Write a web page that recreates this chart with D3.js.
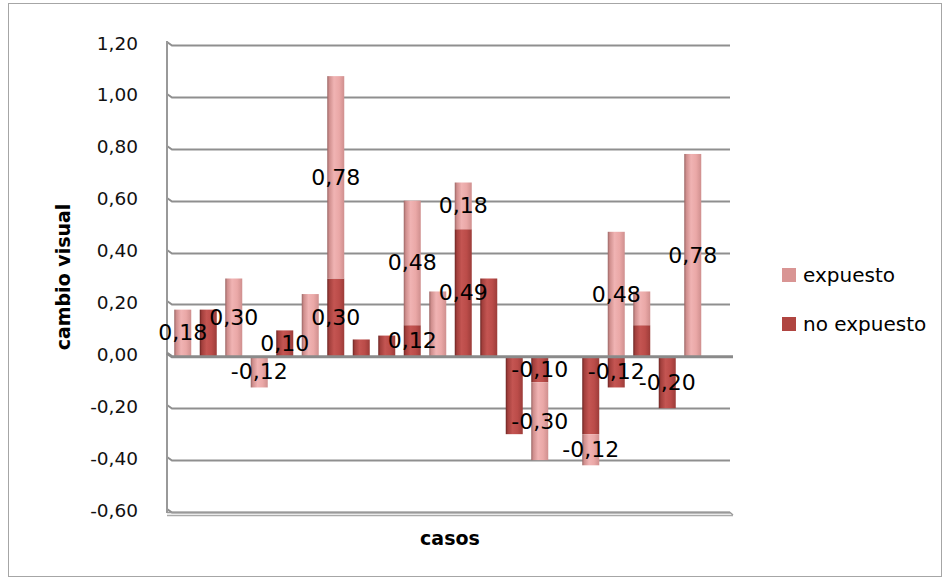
<!DOCTYPE html>
<html>
<head>
<meta charset="utf-8">
<script src="https://cdn.jsdelivr.net/npm/d3@7"></script>
<style>
  html, body { margin: 0; padding: 0; background: #fff; }
  svg { display: block; }
</style>
</head>
<body>
<svg id="chart" width="950" height="581"></svg>
<script>
// ---- data ----
const categories = ["1","2","3","4","5","6","7","8","9","10","11","12","13","14","15","16","17","18","19","20","21"];
const noExpuesto = [0, 0.18, 0, 0, 0.10, 0, 0.30, 0.065, 0.08, 0.12, 0, 0.49, 0.30, -0.30, -0.10, null, -0.30, -0.12, 0.12, -0.20, 0];
const expuesto   = [0.18, 0, 0.30, -0.12, 0, 0.24, 0.78, 0, 0, 0.48, 0.25, 0.18, 0, 0, -0.30, null, -0.12, 0.48, 0.13, 0, 0.78];
const noExpuestoLabel = [0,0,0,0,1,0,1,0,0,1,0,1,0,0,1,0,0,1,0,1,0];
const expuestoLabel   = [1,0,1,1,0,0,1,0,0,1,0,1,0,0,1,0,1,1,0,0,1];
const yTicks = [-0.6, -0.4, -0.2, 0, 0.2, 0.4, 0.6, 0.8, 1.0, 1.2];
const seriesNames = ["expuesto", "no expuesto"];

const svg = d3.select("#chart");
const locale = d3.formatLocale({ decimal: ",", thousands: ".", grouping: [3], currency: ["", ""], minus: "-" });
const fmt = locale.format(".2f");

// outer frame
svg.append("rect").attr("x", 8.5).attr("y", 3.5).attr("width", 933).attr("height", 573)
  .attr("fill", "none").attr("stroke", "#a6a6a6").attr("stroke-width", 1);

const y = d3.scaleLinear().domain([-0.6, 1.2]).range([512, 45]);
const x = d3.scaleBand().domain(categories).range([170, 705.5]).paddingInner(1/3).paddingOuter(1/6);

// gradients
const defs = svg.append("defs");
function grad(id, stops) {
  const g = defs.append("linearGradient").attr("id", id).attr("x1", "0%").attr("x2", "100%").attr("y1", "0%").attr("y2", "0%");
  stops.forEach(s => g.append("stop").attr("offset", s[0]).attr("stop-color", s[1]));
}
grad("gLight", [["0%", "#9a6564"], ["12%", "#cf8e8d"], ["40%", "#f0b3b3"], ["70%", "#eaa8a7"], ["100%", "#cf8f8e"]]);
grad("gDark",  [["0%", "#6b2422"], ["12%", "#a23f3c"], ["40%", "#c45552"], ["70%", "#bb4c49"], ["100%", "#9c3c39"]]);

// gridlines with 3D wall kink
const grid = svg.append("g");
yTicks.forEach(t => {
  const yy = Math.round(y(t)) + 0.5;
  if (t === 0) return;
  grid.append("path")
    .attr("d", `M167,${yy - 3.5} L172,${yy} L730,${yy}`)
    .attr("fill", "none").attr("stroke", "#8f8f8f").attr("stroke-width", 2);
});
// left wall
grid.append("line").attr("x1", 167).attr("x2", 167).attr("y1", y(1.2) - 4).attr("y2", y(-0.6) + 1)
  .attr("stroke", "#999").attr("stroke-width", 2);
// floor (bottom) double line
grid.append("path").attr("d", `M167,${y(-0.6) + 0.5} L730,${y(-0.6) + 0.5} L733,${y(-0.6) + 3}`)
  .attr("fill", "none").attr("stroke", "#999").attr("stroke-width", 1.5);
grid.append("line").attr("x1", 167).attr("x2", 733).attr("y1", y(-0.6) + 3.5).attr("y2", y(-0.6) + 3.5)
  .attr("stroke", "#aaa").attr("stroke-width", 1.5);

// tick labels
svg.append("g").selectAll("text").data(yTicks).join("text")
  .attr("x", 138).attr("y", d => y(d) - 2)
  .attr("text-anchor", "end").attr("dominant-baseline", "central")
  .attr("font-family", "DejaVu Sans").attr("font-size", 18.5).attr("fill", "#111")
  .text(d => fmt(d));

// stacked data
const rows = categories.map((c, i) => ({ cat: c, no: noExpuesto[i], ex: expuesto[i], i }));
const valid = rows.filter(r => r.no !== null && r.ex !== null);
const stack = d3.stack().keys(["no", "ex"]).offset(d3.stackOffsetDiverging);
const stacked = stack(valid);
const fills = { no: "url(#gDark)", ex: "url(#gLight)" };
const labelFlags = { no: noExpuestoLabel, ex: expuestoLabel };

const barsG = svg.append("g");
stacked.forEach(s => {
  barsG.append("g").selectAll("rect").data(s.filter(d => d[0] !== d[1])).join("rect")
    .attr("x", d => x(d.data.cat))
    .attr("width", x.bandwidth())
    .attr("y", d => y(Math.max(d[0], d[1])))
    .attr("height", d => Math.abs(y(d[0]) - y(d[1])))
    .attr("fill", fills[s.key]);
});

// zero line (floor edge at 0)
svg.append("path").attr("d", `M167,${y(0) - 3} L172,${y(0) + 0.5} L733,${y(0) + 0.5}`)
  .attr("fill", "none").attr("stroke", "#8a8a8a").attr("stroke-width", 3);

// data labels
const labG = svg.append("g");
stacked.forEach(s => {
  labG.append("g").selectAll("text")
    .data(s.filter(d => d[0] !== d[1] && labelFlags[s.key][d.data.i]))
    .join("text")
    .attr("x", d => x(d.data.cat) + x.bandwidth() / 2)
    .attr("y", d => y((d[0] + d[1]) / 2))
    .attr("text-anchor", "middle").attr("dominant-baseline", "central")
    .attr("font-family", "DejaVu Sans").attr("font-size", 22).attr("fill", "#000")
    .text(d => fmt(d.data[s.key]));
});

// axis titles
svg.append("text").attr("x", 450).attr("y", 538)
  .attr("text-anchor", "middle").attr("dominant-baseline", "central")
  .attr("font-family", "DejaVu Sans").attr("font-weight", "bold").attr("font-size", 19).attr("fill", "#000")
  .text("casos");
svg.append("text").attr("transform", "translate(63,277) rotate(-90)")
  .attr("text-anchor", "middle").attr("dominant-baseline", "central")
  .attr("font-family", "DejaVu Sans").attr("font-weight", "bold").attr("font-size", 19).attr("fill", "#000")
  .text("cambio visual");

// legend
const legendColors = ["#d99594", "#b04541"];
const lg = svg.append("g");
seriesNames.forEach((n, i) => {
  const yy = 268 + i * 49;
  lg.append("rect").attr("x", 782).attr("y", yy).attr("width", 14).attr("height", 14).attr("fill", legendColors[i]);
  lg.append("text").attr("x", 803).attr("y", yy + 7).attr("dominant-baseline", "central")
    .attr("font-family", "DejaVu Sans").attr("font-size", 20).attr("fill", "#000").text(n);
});
</script>
</body>
</html>
